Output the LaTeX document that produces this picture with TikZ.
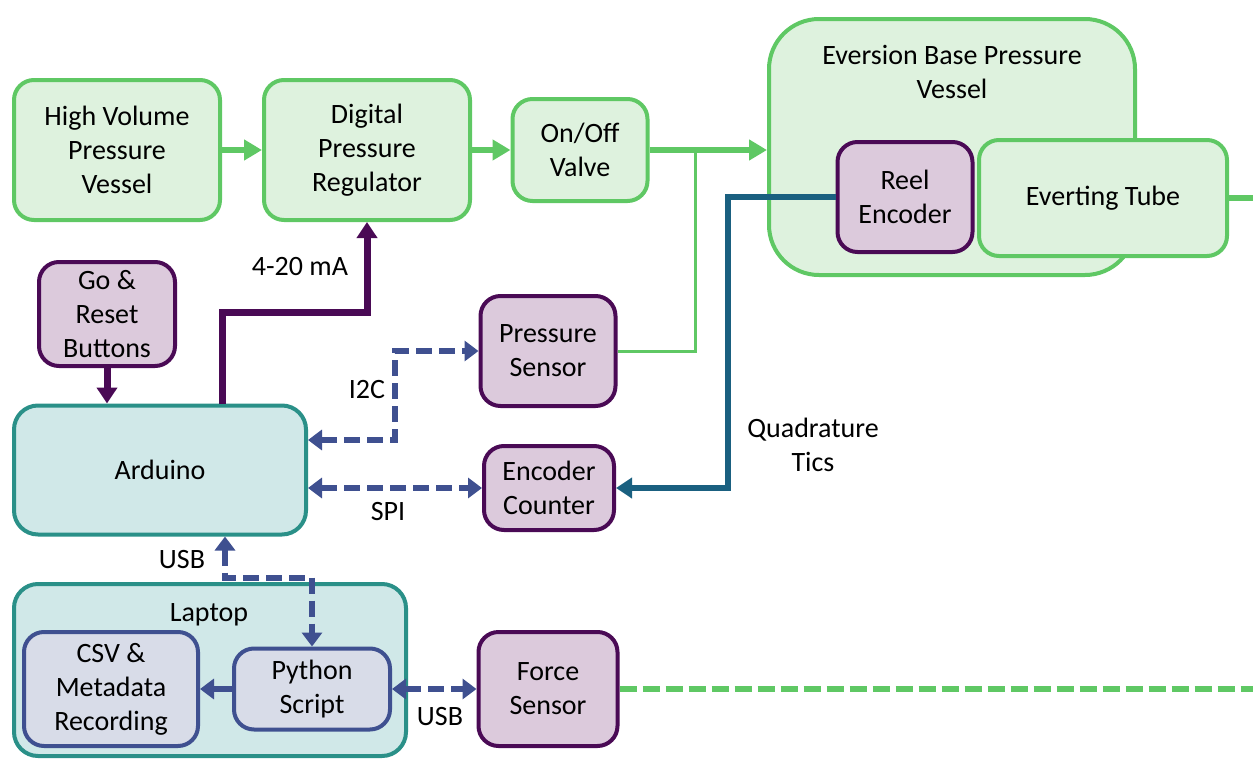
\documentclass[tikz,border=0pt]{standalone}
\usepackage{fontspec}
\setmainfont{Carlito}
\usetikzlibrary{arrows.meta}
\definecolor{gasline}{HTML}{5FC864}
\definecolor{gasfill}{HTML}{DEF2DE}
\definecolor{sensline}{HTML}{4A0A55}
\definecolor{sensfill}{HTML}{DCCADC}
\definecolor{ctrlline}{HTML}{2A9088}
\definecolor{ctrlfill}{HTML}{D0E8E8}
\definecolor{pcline}{HTML}{3F5090}
\definecolor{pcfill}{HTML}{D8DCE8}
\definecolor{quadline}{HTML}{1A6080}
\begin{document}
\begin{tikzpicture}[x=0.5pt, y=-0.5pt,
    every node/.style={font=\fontsize{14}{17}\selectfont, align=center, inner sep=0pt},
    gasbox/.style={draw=gasline, fill=gasfill, line width=2pt, rounded corners=10pt},
    sensbox/.style={draw=sensline, fill=sensfill, line width=2pt, rounded corners=10pt},
    ctrlbox/.style={draw=ctrlline, fill=ctrlfill, line width=2pt, rounded corners=12pt},
    pcbox/.style={draw=pcline, fill=pcfill, line width=2pt, rounded corners=10pt},
    gasflow/.style={draw=gasline, line width=3pt, -{Triangle[length=9pt,width=10pt]}},
    sigline/.style={draw=sensline, line width=3.5pt, -{Triangle[length=8pt,width=10pt]}},
    buslink/.style={draw=pcline, line width=3pt, dash pattern=on 8pt off 3.5pt,
        {Triangle[length=7pt,width=10pt]}-{Triangle[length=7pt,width=10pt]}}]

    \useasboundingbox (0,0) rectangle (1253,760);

    % Gas supply chain
    \node[gasbox, minimum width=103pt, minimum height=70pt] (HVPV) at (117,150) {High Volume\\Pressure\\Vessel};
    \node[gasbox, minimum width=103pt, minimum height=70pt] (DPR) at (367,150) {Digital\\Pressure\\Regulator};
    \node[gasbox, minimum width=67.5pt, minimum height=51pt] (Valve) at (580,150) {On/Off\\Valve};

    % Eversion base
    \node[gasbox, rounded corners=25pt, minimum width=183pt, minimum height=128pt] (EBPV) at (952,147) {};
    \node (EBPVtitle) at (952,72) {Eversion Base Pressure\\Vessel};
    \node[gasbox, minimum width=124pt, minimum height=58pt] (ET) at (1103,198) {Everting Tube};
    \node[sensbox, minimum width=67.5pt, minimum height=55pt] (RE) at (905,197) {Reel\\Encoder};
    \coordinate (ETend) at (1253,198);

    % Control side
    \node[sensbox, minimum width=68pt, minimum height=52pt] (GRB) at (107,314) {Go \&\\Reset\\Buttons};
    \node[ctrlbox, minimum width=146pt, minimum height=64.5pt] (Ard) at (160,470) {Arduino};
    \node[sensbox, minimum width=67.5pt, minimum height=55pt] (PS) at (548,351) {Pressure\\Sensor};
    \node[sensbox, minimum width=65pt, minimum height=42pt] (EC) at (549,488) {Encoder\\Counter};

    % Laptop
    \node[ctrlbox, minimum width=196pt, minimum height=86pt] (Laptop) at (210,670) {};
    \node (LaptopTitle) at (209,615) {Laptop};
    \node[pcbox, minimum width=87pt, minimum height=57pt] (CSV) at (111,689) {CSV \&\\Metadata\\Recording};
    \node[pcbox, minimum width=78pt, minimum height=40.5pt] (Py) at (312,689) {Python\\Script};
    \node[sensbox, minimum width=69.5pt, minimum height=57pt] (FS) at (548,689) {Force\\Sensor};
    \coordinate (FSend) at (1253,689);

    % Gas flow
    \draw[gasflow] (HVPV) -- (DPR);
    \draw[gasflow] (DPR) -- (Valve);
    \draw[gasflow] (Valve.east) -- (EBPV.west |- Valve.east);
    \draw[draw=gasline, line width=3pt] (ET.east) -- (ETend);
    \coordinate (Tap) at (695,150);
    \draw[draw=gasline, line width=1.5pt] (PS.east) -| (Tap);
    \draw[draw=gasline, line width=3pt, dash pattern=on 8.5pt off 3pt] (FS.east) -- (FSend);

    % Signals
    \draw[sigline] ([xshift=31pt]Ard.north) -- ++(0,-91) -| (DPR.south);
    \node (mA) at (300,267) {4-20 mA};
    \draw[sigline] (GRB.south) -- (GRB.south |- Ard.north);
    \draw[buslink] ([yshift=15pt]Ard.east) -| ++(87,-89) -- (PS.west);
    \node (I2C) at (367,390) {I2C};
    \draw[buslink] ([yshift=-9pt]Ard.east) -- (EC.west);
    \node (SPI) at (388,512) {SPI};
    \draw[draw=quadline, line width=3pt, -{Triangle[length=8pt,width=10pt]}] (RE.west) -| ++(-108,291) -- (EC.east);
    \node (Quad) at (813,445) {Quadrature\\Tics};

    % USB links
    \draw[buslink] ([xshift=32.5pt]Ard.south) -- ++(0,41) -| (Py.north);
    \node (USB1) at (182,560) {USB};
    \draw[draw=pcline, line width=3pt, -{Triangle[length=7pt,width=10pt]}] (Py.west) -- (CSV.east);
    \draw[buslink] (Py.east) -- (FS.west);
    \node (USB2) at (440,717) {USB};

\end{tikzpicture}
\end{document}
